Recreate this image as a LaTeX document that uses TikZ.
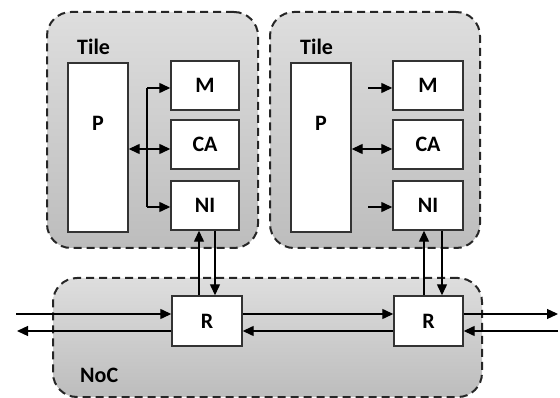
\documentclass[tikz,border=0pt]{standalone}
\usepackage{fontspec}
\setmainfont{Carlito}
\usetikzlibrary{arrows.meta}
\begin{document}
\begin{tikzpicture}[x=1pt,y=-1pt,
  region/.style={draw=black!85, line width=2pt, dash pattern=on 8pt off 5pt,
    rounded corners=24pt, top color=black!13, bottom color=black!26,
    inner sep=0pt, outer sep=0pt},
  unit/.style={draw=black!80, line width=1.4pt, fill=white, inner sep=0pt,
    font=\bfseries\fontsize{22}{22}\selectfont},
  link/.style={line width=1.3pt, -{Triangle[length=11pt,width=10pt]}},
  biglink/.style={line width=1.3pt, {Triangle[length=11pt,width=10pt]}-{Triangle[length=11pt,width=10pt]}},
  tag/.style={font=\bfseries\fontsize{22}{22}\selectfont, inner sep=0pt}]
\useasboundingbox (0,0) rectangle (560,398);

% regions
\node[region, minimum width=211pt, minimum height=236pt] (T1) at (152.5,130) {};
\node[region, minimum width=210pt, minimum height=236pt] (T2) at (375,130) {};
\node[region, minimum width=429pt, minimum height=119pt] (N) at (267.5,337.5) {};

\node[tag, anchor=west] (T1t) at (77,47) {Tile};
\node[tag, anchor=west] (T2t) at (300,47) {Tile};
\node[tag, anchor=west] (Nt) at (80,375) {NoC};

% tile 1
\node[unit, minimum width=60pt, minimum height=169pt,
      label={[tag, yshift=24pt]center:P}] (P1) at (98,147.5) {};
\node[unit, minimum width=68pt, minimum height=49pt] (M1) at (205,85.5) {M};
\node[unit, minimum width=68pt, minimum height=49pt] (CA1) at (205,144.5) {CA};
\node[unit, minimum width=68pt, minimum height=49pt] (NI1) at (205,205.5) {NI};

% tile 2
\node[unit, minimum width=60pt, minimum height=169pt,
      label={[tag, yshift=24pt]center:P}] (P2) at (321,147.5) {};
\node[unit, minimum width=70pt, minimum height=49pt] (M2) at (428,85.5) {M};
\node[unit, minimum width=70pt, minimum height=49pt] (CA2) at (428,144.5) {CA};
\node[unit, minimum width=70pt, minimum height=49pt] (NI2) at (428,205.5) {NI};

% routers
\node[unit, minimum width=70pt, minimum height=50pt] (R1) at (207,321) {R};
\node[unit, minimum width=69pt, minimum height=50pt] (R2) at (428.5,321) {R};

% helper levels
\coordinate (yM) at (0,88);
\coordinate (yCA) at (0,149);
\coordinate (yNI) at (0,207);
\coordinate (bus) at (147,0);
\coordinate (up) at (0,314);
\coordinate (lo) at (0,331);
\coordinate (inL) at (16,314);
\coordinate (outL) at (17,331);
\coordinate (outR) at (558,314);
\coordinate (inR) at (558,331);
\coordinate (s2) at (368,0);

% tile 1 local bus
\draw[biglink] (P1.east |- yCA) -- (CA1.west |- yCA);
\draw[line width=1.3pt] (bus |- yM) -- (bus |- yNI);
\draw[link] (bus |- yM) -- (M1.west |- yM);
\draw[link] (bus |- yNI) -- (NI1.west |- yNI);

% tile 2 local links
\draw[biglink] (P2.east |- yCA) -- (CA2.west |- yCA);
\draw[link] (s2 |- yM) -- (M2.west |- yM);
\draw[link] (s2 |- yNI) -- (NI2.west |- yNI);

% NI <-> R
\draw[link] ([xshift=-8pt]R1.north) -- ([xshift=-8pt]R1.north |- NI1.south);
\draw[link] ([xshift=8pt]R1.north |- NI1.south) -- ([xshift=8pt]R1.north);
\draw[link] ([xshift=-4.5pt]R2.north) -- ([xshift=-4.5pt]R2.north |- NI2.south);
\draw[link] ([xshift=13.5pt]R2.north |- NI2.south) -- ([xshift=13.5pt]R2.north);

% router links
\draw[link] (inL) -- (R1.west |- up);
\draw[link] (R1.west |- lo) -- (outL);
\draw[link] (R1.east |- up) -- (R2.west |- up);
\draw[link] (R2.west |- lo) -- (R1.east |- lo);
\draw[link] (R2.east |- up) -- (outR);
\draw[link] (inR) -- (R2.east |- lo);
\end{tikzpicture}
\end{document}
